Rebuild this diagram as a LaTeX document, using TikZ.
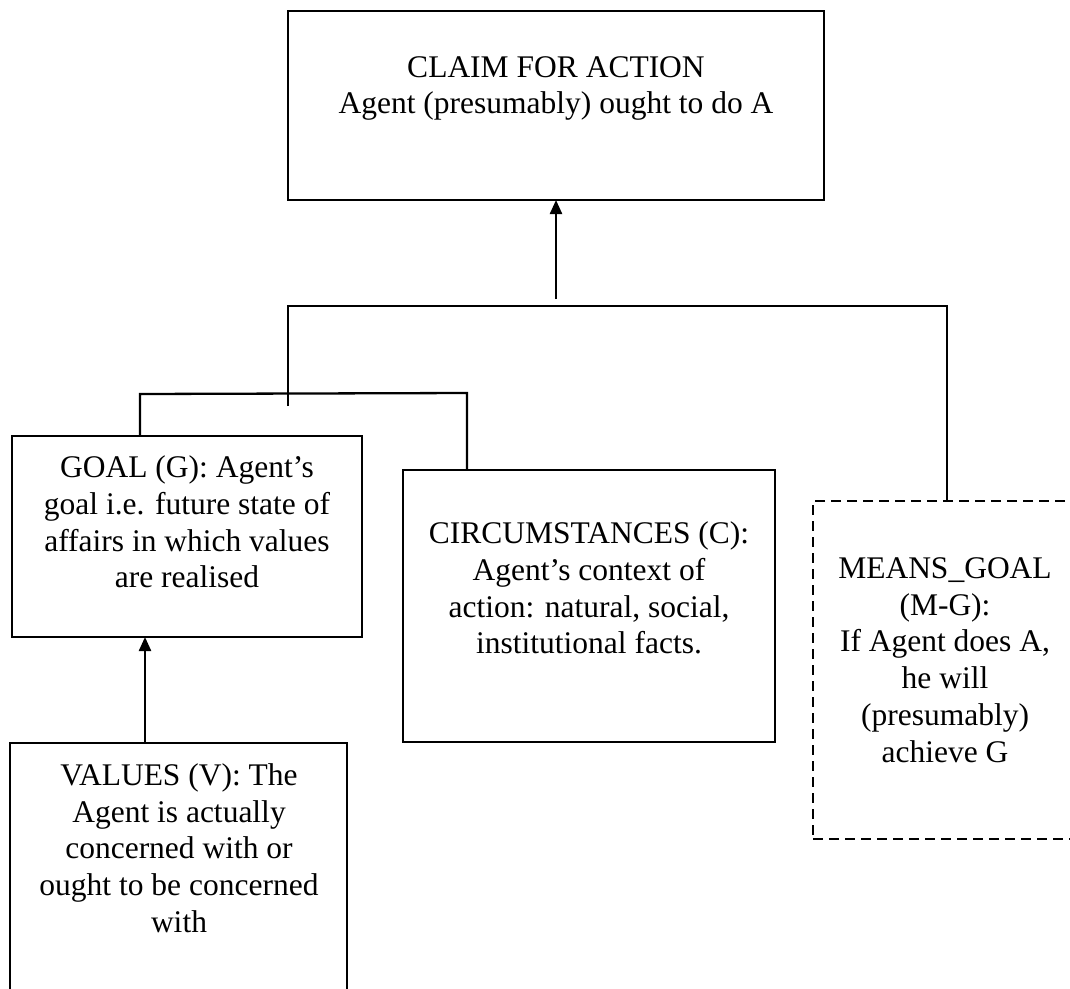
\documentclass[tikz,border=0pt]{standalone}
\usepackage{fontspec}
\setmainfont{Liberation Serif}
\usetikzlibrary{arrows.meta}
\begin{document}
\begin{tikzpicture}[x=1pt,y=-1pt,
  boxs/.style={draw, line width=2.8pt, inner sep=0pt, outer sep=0pt},
  dboxs/.style={draw, line width=2.4pt, dash pattern=on 10pt off 6pt, inner sep=0pt, outer sep=0pt},
  txt/.style={font=\fontsize{31.5}{36.7}\selectfont, align=center, inner sep=0pt},
  conn/.style={line width=2.3pt},
  arr/.style={conn, -{Triangle[length=14pt,width=12pt]}}]
\clip (0,0) rectangle (1070,988);
\fill[white] (0,0) rectangle (1070,988);
% boxes
\node[boxs, minimum width=536pt, minimum height=189pt] (claim) at (556,105.5) {};
\node[boxs, minimum width=350pt, minimum height=201pt] (goal) at (187,536.5) {};
\node[boxs, minimum width=372pt, minimum height=272pt] (circ) at (589,606) {};
\node[dboxs, minimum width=277pt, minimum height=338pt] (means) at (951.5,670) {};
\node[boxs, minimum width=337pt, minimum height=267pt] (values) at (178.5,876.5) {};
% texts
\node[txt] (claimt) at (556,88.5) {CLAIM FOR ACTION\\Agent (presumably) ought to do A};
\node[txt] (goalt) at (187,522) {GOAL (G): Agent’s\\goal i.e. future state of\\affairs in which values\\are realised};
\node[txt] (circt) at (589,588) {CIRCUMSTANCES (C):\\Agent’s context of\\action: natural, social,\\institutional facts.};
\node[txt] (meanst) at (945,660) {MEANS\_GOAL\\(M-G):\\If Agent does A,\\he will\\(presumably)\\achieve G};
\node[txt] (valuest) at (179,848) {VALUES (V): The\\Agent is actually\\concerned with or\\ought to be concerned\\with};
% connectors
\coordinate (jc) at (556,299);
\coordinate (tl) at (288,306);
\coordinate (tr) at (947,306);
\coordinate (tlb) at (288,406);
\coordinate (bl) at (140,394);
\coordinate (br) at (467,393);
\coordinate (va) at (145,743);
\draw[arr] (jc) -- (claim.south);
\draw[conn] (tlb) -- (tl) -- (tr) -- (tr |- means.north);
\draw[conn] (goal.north -| bl) -- (bl) -- (br) -- (circ.north -| br);
\draw[arr] (va) -- (goal.south -| va);
\end{tikzpicture}
\end{document}
